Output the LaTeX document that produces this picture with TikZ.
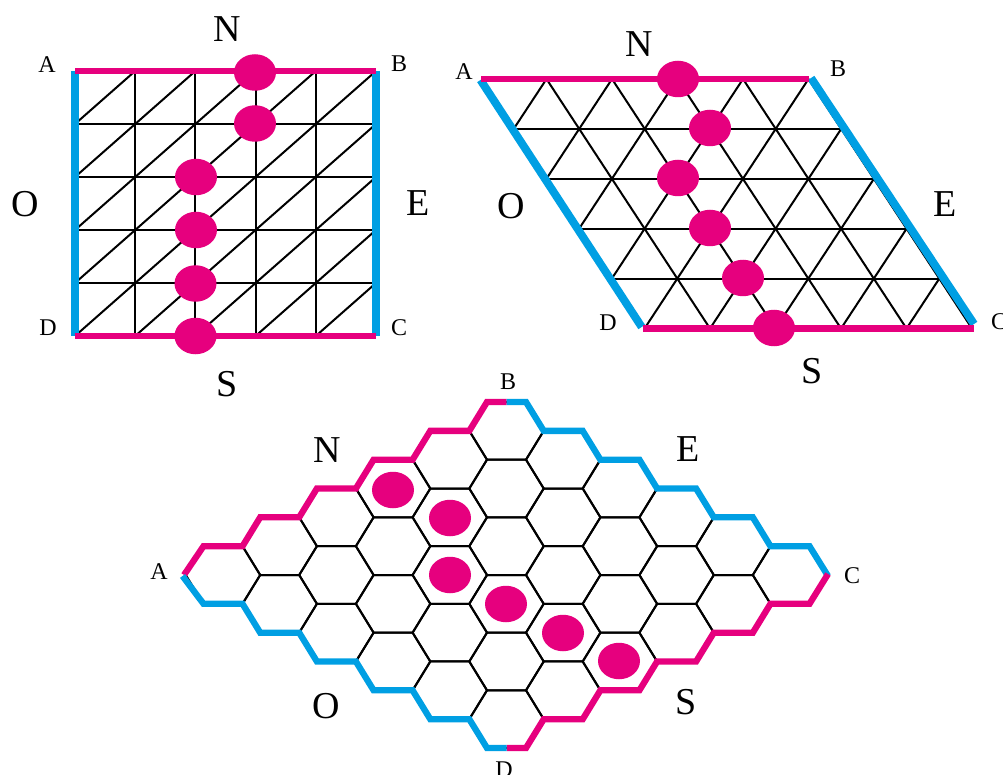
\documentclass[tikz,border=0pt]{standalone}
\usepackage{fontspec}
\setmainfont{Liberation Serif}
\usetikzlibrary{shapes.geometric}
\definecolor{bpink}{HTML}{E6007E}
\definecolor{bblue}{HTML}{009FE3}
\tikzset{
  grid line/.style={black,line width=2pt},
  pinkedge/.style={bpink,line width=6.9pt,line join=miter,miter limit=10},
  blueedge/.style={bblue,line width=8pt,line join=miter,miter limit=10},
  hexpink/.style={bpink,line width=6.3pt,line join=miter,miter limit=10},
  hexblue/.style={bblue,line width=6.3pt,line join=miter,miter limit=10},
  stone/.style={ellipse,fill=bpink,draw=none,inner sep=0pt,minimum width=42pt,minimum height=36.5pt},
  big/.style={inner sep=0pt,font=\fontsize{38}{38}\selectfont},
  small/.style={inner sep=0pt,font=\fontsize{24}{24}\selectfont},
}
\begin{document}
\begin{tikzpicture}[x=1pt,y=-1pt]
\useasboundingbox (0,0) rectangle (1003,775);
\clip (0,0) rectangle (1003,775);
% ---------- square board ----------
\foreach \i in {0,...,5} {
  \foreach \j in {0,...,5} {
    \pgfmathsetmacro{\px}{75+60.2*\i}
    \pgfmathsetmacro{\py}{71+53*\j}
    \coordinate (q-\i-\j) at (\px,\py);
  }
}
\foreach \k in {1,...,4} {
  \draw[grid line] (q-\k-0) -- (q-\k-5);
  \draw[grid line] (q-0-\k) -- (q-5-\k);
}
\foreach \k in {1,...,5} {
  \draw[grid line] (q-\k-0) -- (q-0-\k);
}
\foreach \k in {1,...,4} {
  \draw[grid line] (q-5-\k) -- (q-\k-5);
}
\draw[blueedge] (q-0-0) -- (q-0-5);
\draw[blueedge] (q-5-0) -- (q-5-5);
\draw[pinkedge] (q-0-0) -- (q-5-0);
\draw[pinkedge] (q-0-5) -- (q-5-5);
\node[stone] (qs1) at (255,72.5) {};
\node[stone] (qs2) at (255,123.5) {};
\node[stone] (qs3) at (196,177) {};
\node[stone] (qs4) at (196,230) {};
\node[stone] (qs5) at (195.5,283.5) {};
\node[stone] (qs6) at (195.5,336) {};
\node[big] (qN) at (227,29) {N};
\node[big] (qS) at (227,384) {S};
\node[big] (qO) at (25,204) {O};
\node[big] (qE) at (418,203) {E};
\node[small] (qA) at (47,65) {A};
\node[small] (qB) at (399,64) {B};
\node[small] (qD) at (48,328) {D};
\node[small] (qC) at (399,328) {C};
% ---------- triangular board ----------
\foreach \i in {0,...,5} {
  \foreach \j in {0,...,5} {
    \pgfmathsetmacro{\px}{481+65.5*\i+32.7*\j}
    \pgfmathsetmacro{\py}{79+49.9*\j}
    \coordinate (t-\i-\j) at (\px,\py);
  }
}
\foreach \k in {1,...,5} {
  \draw[grid line] (t-\k-0) -- (t-\k-5);
}
\foreach \k in {1,...,4} {
  \draw[grid line] (t-0-\k) -- (t-5-\k);
}
\foreach \k in {1,...,5} {
  \draw[grid line] (t-\k-0) -- (t-0-\k);
}
\foreach \k in {1,...,4} {
  \draw[grid line] (t-5-\k) -- (t-\k-5);
}
\draw[blueedge] (480.5,80) -- (641.7,327);
\draw[blueedge] (811,78) -- (974,324);
\draw[pinkedge] (t-0-0) -- (t-5-0);
\draw[pinkedge] (642.7,328.5) -- (974,328.5);
\node[stone] (ts1) at (678,79) {};
\node[stone] (ts2) at (710,128) {};
\node[stone] (ts3) at (678,178) {};
\node[stone] (ts4) at (710,228) {};
\node[stone] (ts5) at (743,278) {};
\node[stone] (ts6) at (774,328) {};
\node[big] (tN) at (639,44) {N};
\node[big] (tS) at (812,371) {S};
\node[big] (tO) at (511,206) {O};
\node[big] (tE) at (945,204) {E};
\node[small] (tA) at (464,72) {A};
\node[small] (tB) at (838,69) {B};
\node[small] (tD) at (608,323) {D};
\node[small] (tC) at (999,322) {C};
% ---------- hexagonal board ----------
\foreach \a in {0,...,5} {
  \foreach \b in {0,...,5} {
    \pgfmathsetmacro{\px}{223+56.7*(\a+\b)}
    \pgfmathsetmacro{\py}{575+28.83*(\b-\a)}
    \coordinate (h-\a-\b) at (\px,\py);
    \draw[grid line,line join=round] (h-\a-\b) ++(-37.2,0) -- ++(17.7,-28.83) -- ++(39,0) -- ++(17.7,28.83) -- ++(-17.7,28.83) -- ++(-39,0) -- cycle;
  }
}
\draw[hexpink] (184,575) -- (203.5,546.2) -- (242.5,546.2) -- (260.2,517.3) -- (299.2,517.3) -- (316.9,488.5) -- (355.9,488.5) -- (373.6,459.7) -- (412.6,459.7) -- (430.3,430.85) -- (469.3,430.85) -- (487,402) -- (506.5,402);
\draw[hexblue] (506.5,402) -- (526,402) -- (543.7,430.85) -- (582.7,430.85) -- (600.4,459.7) -- (639.4,459.7) -- (657.1,488.5) -- (696.1,488.5) -- (713.8,517.3) -- (752.8,517.3) -- (770.5,546.2) -- (809.5,546.2) -- (828,576);
\draw[hexpink] (828,574) -- (809.5,603.8) -- (770.5,603.8) -- (752.8,632.7) -- (713.8,632.7) -- (696.1,661.5) -- (657.1,661.5) -- (639.4,690.3) -- (600.4,690.3) -- (582.7,719.2) -- (543.7,719.2) -- (526,748) -- (506.5,748);
\draw[hexblue] (506.5,748) -- (487,748) -- (469.3,719.2) -- (430.3,719.2) -- (412.6,690.3) -- (373.6,690.3) -- (355.9,661.5) -- (316.9,661.5) -- (299.2,632.7) -- (260.2,632.7) -- (242.5,603.8) -- (203.5,603.8) -- (182.5,576);
\node[stone] (hs1) at (393,490) {};
\node[stone] (hs2) at (450,518) {};
\node[stone] (hs3) at (450,575) {};
\node[stone] (hs4) at (506,604) {};
\node[stone] (hs5) at (563,633) {};
\node[stone] (hs6) at (619,661) {};
\node[big] (hN) at (327,450) {N};
\node[big] (hE) at (688,449) {E};
\node[big] (hO) at (326,706) {O};
\node[big] (hS) at (686,702) {S};
\node[small] (hA) at (159,572) {A};
\node[small] (hB) at (508,382) {B};
\node[small] (hC) at (852,576) {C};
\node[small] (hD) at (504,770) {D};
\end{tikzpicture}
\end{document}
